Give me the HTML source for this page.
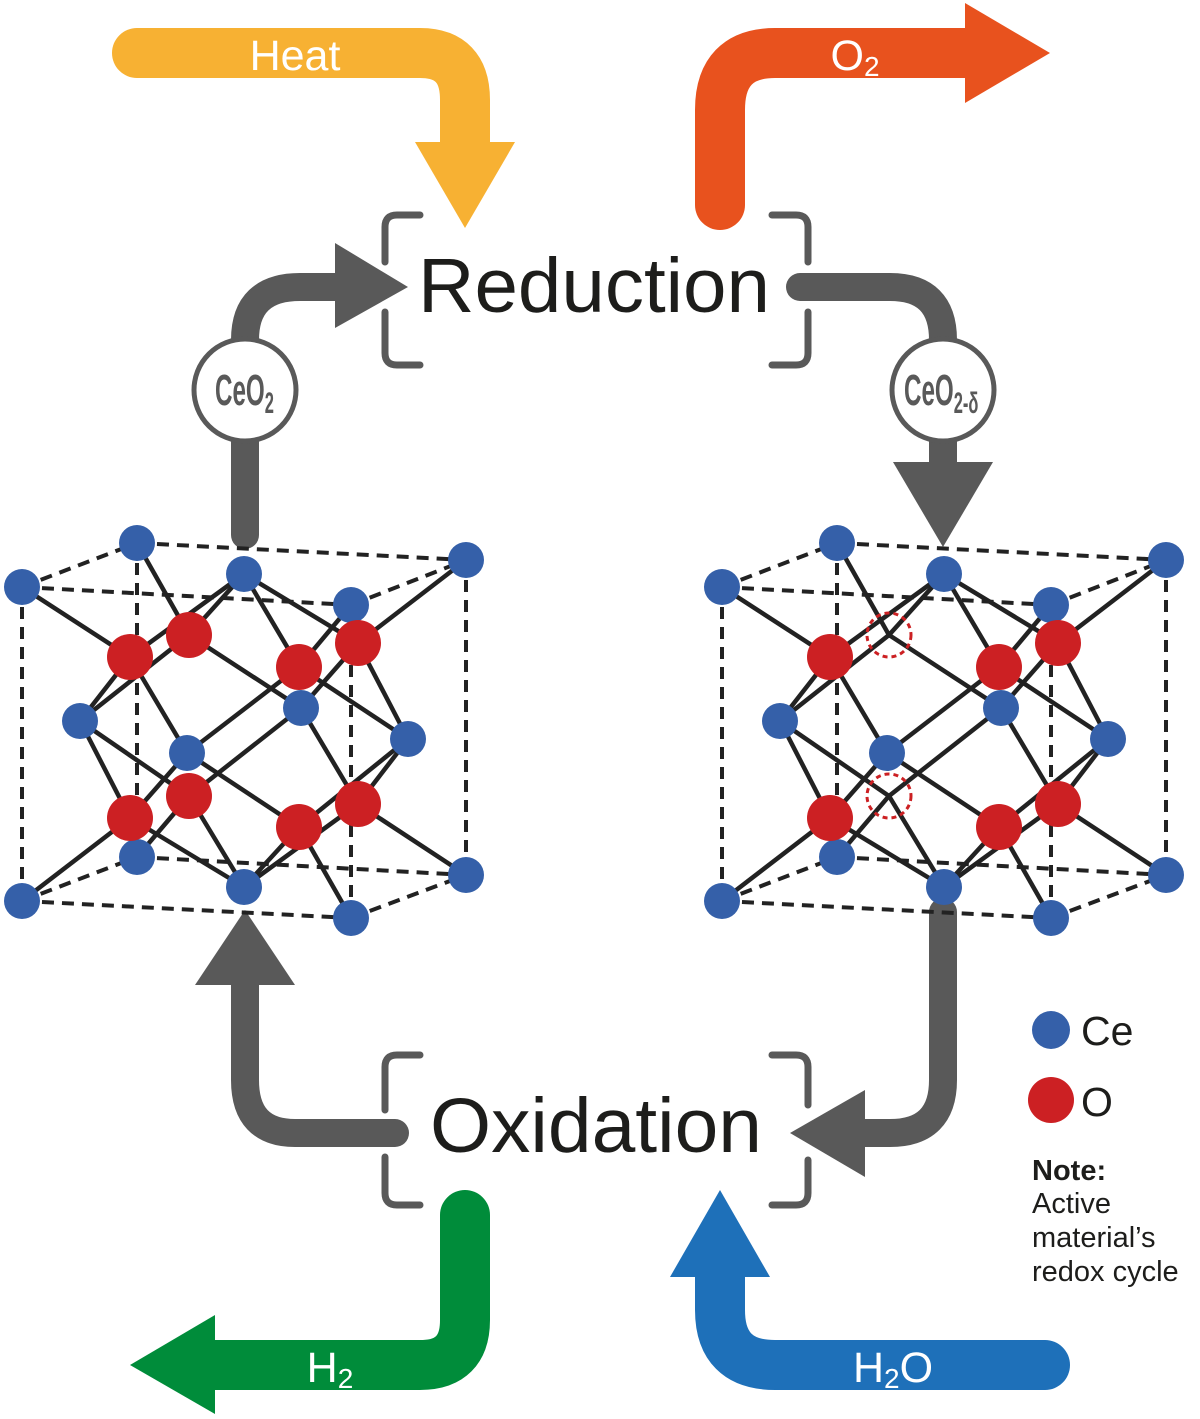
<!DOCTYPE html>
<html><head><meta charset="utf-8"><style>
html,body{margin:0;padding:0;background:#fff}
svg{display:block}
text{font-family:"Liberation Sans",sans-serif}
</style></head><body>
<svg width="1200" height="1419" viewBox="0 0 1200 1419" xmlns="http://www.w3.org/2000/svg">
<defs>
<g id="lat">
  <g stroke="#222" stroke-width="4" stroke-dasharray="12 8" fill="none">
    <line x1="22" y1="587" x2="137" y2="543"/>
    <line x1="137" y1="543" x2="466" y2="560"/>
    <line x1="22" y1="587" x2="351" y2="605"/>
    <line x1="351" y1="605" x2="466" y2="560"/>
    <line x1="22" y1="587" x2="22" y2="901"/>
    <line x1="137" y1="543" x2="137" y2="857"/>
    <line x1="351" y1="605" x2="351" y2="918"/>
    <line x1="466" y1="560" x2="466" y2="875"/>
    <line x1="22" y1="901" x2="137" y2="857"/>
    <line x1="137" y1="857" x2="466" y2="875"/>
    <line x1="22" y1="901" x2="351" y2="918"/>
    <line x1="351" y1="918" x2="466" y2="875"/>
  </g>
  <g stroke="#222" stroke-width="4.5" fill="none">
    <line x1="22" y1="587" x2="130" y2="657"/>
    <line x1="130" y1="657" x2="244" y2="574"/>
    <line x1="130" y1="657" x2="80" y2="721"/>
    <line x1="130" y1="657" x2="187" y2="753"/>
    <line x1="137" y1="543" x2="189" y2="635"/>
    <line x1="189" y1="635" x2="244" y2="574"/>
    <line x1="189" y1="635" x2="80" y2="721"/>
    <line x1="189" y1="635" x2="301" y2="708"/>
    <line x1="244" y1="574" x2="299" y2="667"/>
    <line x1="299" y1="667" x2="351" y2="605"/>
    <line x1="299" y1="667" x2="408" y2="739"/>
    <line x1="299" y1="667" x2="187" y2="753"/>
    <line x1="244" y1="574" x2="358" y2="643"/>
    <line x1="358" y1="643" x2="466" y2="560"/>
    <line x1="358" y1="643" x2="301" y2="708"/>
    <line x1="358" y1="643" x2="408" y2="739"/>
    <line x1="80" y1="721" x2="130" y2="818"/>
    <line x1="130" y1="818" x2="22" y2="901"/>
    <line x1="130" y1="818" x2="244" y2="887"/>
    <line x1="130" y1="818" x2="187" y2="753"/>
    <line x1="189" y1="796" x2="137" y2="857"/>
    <line x1="189" y1="796" x2="301" y2="708"/>
    <line x1="189" y1="796" x2="244" y2="887"/>
    <line x1="189" y1="796" x2="80" y2="721"/>
    <line x1="187" y1="753" x2="299" y2="827"/>
    <line x1="299" y1="827" x2="244" y2="887"/>
    <line x1="299" y1="827" x2="351" y2="918"/>
    <line x1="299" y1="827" x2="408" y2="739"/>
    <line x1="301" y1="708" x2="358" y2="804"/>
    <line x1="358" y1="804" x2="408" y2="739"/>
    <line x1="358" y1="804" x2="244" y2="887"/>
    <line x1="358" y1="804" x2="466" y2="875"/>
  </g>
  <g fill="#3560A9">
    <circle cx="22" cy="587" r="18"/><circle cx="137" cy="543" r="18"/>
    <circle cx="244" cy="574" r="18"/><circle cx="466" cy="560" r="18"/>
    <circle cx="351" cy="605" r="18"/><circle cx="80" cy="721" r="18"/>
    <circle cx="187" cy="753" r="18"/><circle cx="301" cy="708" r="18"/>
    <circle cx="408" cy="739" r="18"/><circle cx="137" cy="857" r="18"/>
    <circle cx="244" cy="887" r="18"/><circle cx="22" cy="901" r="18"/>
    <circle cx="466" cy="875" r="18"/><circle cx="351" cy="918" r="18"/>
  </g>
  <g fill="#CC2023">
    <circle cx="130" cy="657" r="23"/><circle cx="299" cy="667" r="23"/>
    <circle cx="358" cy="643" r="23"/><circle cx="130" cy="818" r="23"/>
    <circle cx="299" cy="827" r="23"/><circle cx="358" cy="804" r="23"/>
  </g>
</g>
</defs>

<!-- Heat -->
<path d="M137,53 H420 Q465,53 465,100 V145" stroke="#F7B133" stroke-width="50" fill="none" stroke-linecap="round"/>
<polygon points="415,142 515,142 465,228" fill="#F7B133"/>
<text x="295" y="70" font-size="43" fill="#fff" text-anchor="middle">Heat</text>

<!-- O2 -->
<path d="M720,205 V110 Q720,53 775,53 H970" stroke="#E8521E" stroke-width="50" fill="none" stroke-linecap="round"/>
<polygon points="965,3 965,103 1050,53" fill="#E8521E"/>
<text x="855" y="70" font-size="43" fill="#fff" text-anchor="middle">O<tspan font-size="28" dy="6">2</tspan></text>

<!-- H2 -->
<path d="M465,1215 V1320 Q465,1365 420,1365 H210" stroke="#008C3A" stroke-width="50" fill="none" stroke-linecap="round"/>
<polygon points="215,1315 215,1414 130,1365" fill="#008C3A"/>
<text x="330" y="1382" font-size="43" fill="#fff" text-anchor="middle">H<tspan font-size="28" dy="6">2</tspan></text>

<!-- H2O -->
<path d="M1045,1365 H775 Q720,1365 720,1310 V1270" stroke="#1E70B9" stroke-width="50" fill="none" stroke-linecap="round"/>
<polygon points="670,1277 770,1277 720,1190" fill="#1E70B9"/>
<text x="893" y="1382" font-size="43" fill="#fff" text-anchor="middle">H<tspan font-size="28" dy="6">2</tspan><tspan dy="-6">O</tspan></text>

<!-- brackets -->
<g stroke="#595959" stroke-width="7" fill="none" stroke-linecap="round">
  <path d="M420,215 H397 Q385,215 385,227 V262"/>
  <path d="M385,312 V353 Q385,365 397,365 H420"/>
  <path d="M772,215 H796 Q808,215 808,227 V262"/>
  <path d="M808,312 V353 Q808,365 796,365 H772"/>
  <path d="M420,1055 H397 Q385,1055 385,1067 V1110"/>
  <path d="M385,1157 V1193 Q385,1205 397,1205 H420"/>
  <path d="M772,1055 H796 Q808,1055 808,1067 V1105"/>
  <path d="M808,1160 V1193 Q808,1205 796,1205 H772"/>
</g>

<text x="594" y="312" font-size="77" fill="#1d1d1b" text-anchor="middle" textLength="352" lengthAdjust="spacingAndGlyphs">Reduction</text>
<text x="596" y="1152" font-size="77" fill="#1d1d1b" text-anchor="middle" textLength="332" lengthAdjust="spacingAndGlyphs">Oxidation</text>

<!-- gray arrows -->
<g stroke="#595959" stroke-width="28" fill="none" stroke-linecap="round">
  <path d="M245,535 V440"/>
  <path d="M245,340 Q245,287 300,287 H340"/>
  <path d="M800,287 H890 Q943,287 943,340"/>
  <path d="M943,440 V470"/>
  <path d="M395,1133 H295 Q245,1133 245,1080 V980"/>
  <path d="M943,912 V1080 Q943,1133 890,1133 H860"/>
</g>
<polygon points="335,243 335,328 408,287" fill="#595959"/>
<polygon points="893,462 993,462 943,547" fill="#595959"/>
<polygon points="195,985 295,985 245,910" fill="#595959"/>
<polygon points="865,1090 865,1177 790,1133" fill="#595959"/>

<circle cx="245" cy="390" r="51" fill="#fff" stroke="#595959" stroke-width="5"/>
<circle cx="943" cy="390" r="51" fill="#fff" stroke="#595959" stroke-width="5"/>
<g fill="#595959" font-size="44" font-weight="bold">
  <text transform="translate(215,405) scale(0.55,1)">CeO<tspan font-size="30" dy="8">2</tspan></text>
  <text transform="translate(904,405) scale(0.55,1)">CeO<tspan font-size="30" dy="8">2-δ</tspan></text>
</g>

<!-- lattices -->
<use href="#lat"/>
<g fill="#CC2023">
  <circle cx="189" cy="635" r="23"/>
  <circle cx="189" cy="796" r="23"/>
</g>
<g transform="translate(700,0)">
  <use href="#lat"/>
  <g fill="none" stroke="#CC2023" stroke-width="3" stroke-dasharray="5 4">
    <circle cx="189" cy="635" r="22"/>
    <circle cx="189" cy="796" r="22"/>
  </g>
</g>

<!-- legend -->
<circle cx="1051" cy="1030" r="19" fill="#3560A9"/>
<text x="1081" y="1045" font-size="41" fill="#1d1d1b">Ce</text>
<circle cx="1051" cy="1100" r="23" fill="#CC2023"/>
<text x="1081" y="1116" font-size="41" fill="#1d1d1b">O</text>
<g font-size="29" fill="#1d1d1b">
  <text x="1032" y="1180" font-weight="bold">Note:</text>
  <text x="1032" y="1213">Active</text>
  <text x="1032" y="1247">material’s</text>
  <text x="1032" y="1281">redox cycle</text>
</g>
</svg>
</body></html>
